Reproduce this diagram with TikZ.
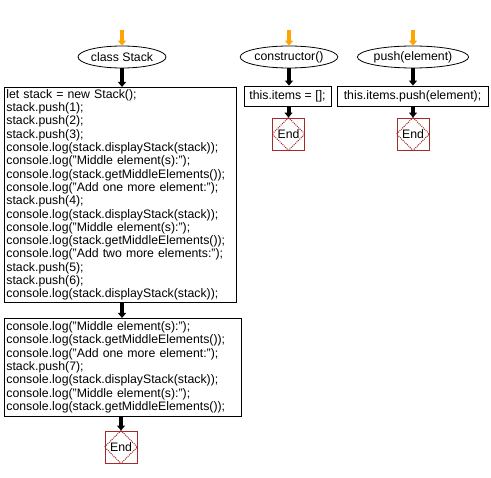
\documentclass[tikz,border=0pt]{standalone}
\usepackage{fontspec}
\setmainfont{Liberation Sans}
\usetikzlibrary{arrows.meta,shapes.geometric}
\definecolor{endred}{HTML}{A52A2A}
\definecolor{startor}{HTML}{FFA500}
\tikzset{
  txt/.style={font=\fontsize{12.3}{13.3}\selectfont},
  startell/.style={ellipse, draw, line width=0.8pt, fill=white, txt, minimum height=22, inner sep=0pt},
  codebox/.style={draw, line width=0.8pt, fill=white, txt, align=left, inner sep=2pt},
  endsq/.style={draw=endred, line width=0.9pt, minimum width=32, minimum height=32, inner sep=0pt, txt},
  flow/.style={line width=4pt, -{Triangle[width=8pt,length=5pt]}},
  startflow/.style={flow, draw=startor, color=startor},
}
\newcommand{\stopdiamond}[1]{%
  \draw[endred, dash pattern=on 1pt off 1pt, line width=1pt] (#1.north) -- (#1.east) -- (#1.south) -- (#1.west) -- cycle;}
\begin{document}
\begin{tikzpicture}[x=1pt,y=-1pt]
\useasboundingbox[fill=white] (0,0) rectangle (491,478);
% start ellipses
\node[startell, minimum width=86] (cls) at (122,57) {class Stack};
\node[startell, minimum width=86] (ctor) at (289,57) {constructor()};
\node[startell, minimum width=96] (push) at (413,57) {push(element)};
\coordinate (s1) at (122,30);
\coordinate (s2) at (289,30);
\coordinate (s3) at (413,30);
\draw[startflow] (s1) -- (cls.north);
\draw[startflow] (s2) -- (ctor.north);
\draw[startflow] (s3) -- (push.north);
% main code boxes
\node[codebox, anchor=north west, text width=228, minimum height=214] (b1) at (4,87) {%
let stack = new Stack();\\
stack.push(1);\\
stack.push(2);\\
stack.push(3);\\
console.log(stack.displayStack(stack));\\
console.log("Middle element(s):");\\
console.log(stack.getMiddleElements());\\
console.log("Add one more element:");\\
stack.push(4);\\
console.log(stack.displayStack(stack));\\
console.log("Middle element(s):");\\
console.log(stack.getMiddleElements());\\
console.log("Add two more elements:");\\
stack.push(5);\\
stack.push(6);\\
console.log(stack.displayStack(stack));};
\node[codebox, anchor=north west, text width=233, minimum height=98] (b2) at (4,318) {%
console.log("Middle element(s):");\\
console.log(stack.getMiddleElements());\\
console.log("Add one more element:");\\
stack.push(7);\\
console.log(stack.displayStack(stack));\\
console.log("Middle element(s):");\\
console.log(stack.getMiddleElements());};
\node[endsq] (e1) at (121,447) {End};
\stopdiamond{e1}
% constructor branch
\node[codebox, minimum width=87, minimum height=20] (c1) at (287.5,96) {this.items = [];};
\node[endsq] (e2) at (288.5,134) {End};
\stopdiamond{e2}
% push branch
\node[codebox, minimum width=151, minimum height=20] (p1) at (412.5,96) {this.items.push(element);};
\node[endsq] (e3) at (413,134) {End};
\stopdiamond{e3}
% connectors
\draw[flow] (cls.south) -- (cls.south |- b1.north);
\draw[flow] (cls.south |- b1.south) -- (cls.south |- b2.north);
\draw[flow] (e1.north |- b2.south) -- (e1.north);
\draw[flow] (ctor.south) -- (ctor.south |- c1.north);
\draw[flow] (e2.north |- c1.south) -- (e2.north);
\draw[flow] (push.south) -- (push.south |- p1.north);
\draw[flow] (e3.north |- p1.south) -- (e3.north);
\end{tikzpicture}
\end{document}
